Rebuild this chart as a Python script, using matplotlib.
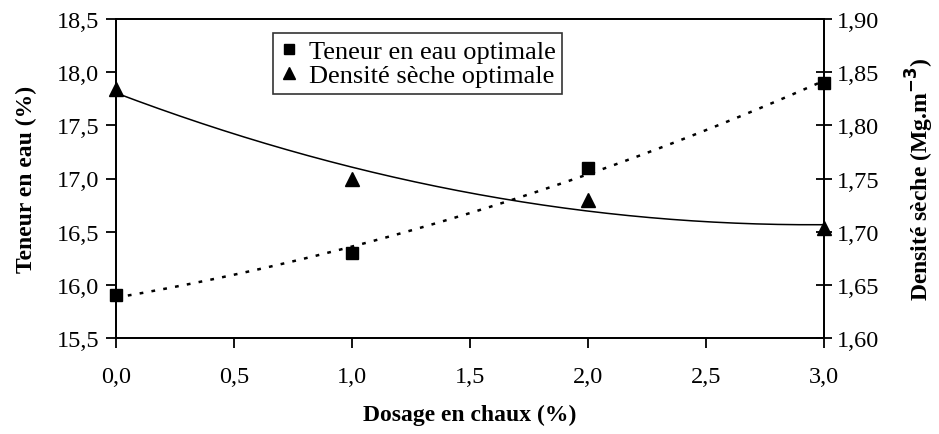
import numpy as np
import matplotlib.pyplot as plt
from matplotlib.ticker import FuncFormatter, MultipleLocator

# Data
dosage = [0, 1, 2, 3]                      # Dosage en chaux (%)
teneur = [15.9, 16.3, 17.1, 17.9]          # Teneur en eau optimale (%)
densite = [1.834, 1.75, 1.73, 1.703]       # Densité sèche optimale (Mg/m3)

plt.rcParams['font.family'] = ['Liberation Serif', 'DejaVu Serif']

fig = plt.figure(figsize=(9.39, 4.35), dpi=100)
ax = fig.add_axes([116/939, 1 - 339/435, (824-116)/939, (339-20)/435])
ax2 = ax.twinx()

# polynomial (order 2) trend lines like the spreadsheet
xs = np.linspace(0, 3, 200)
c1 = np.polyfit(dosage, teneur, 2)
c2 = np.polyfit(dosage, densite, 2)

ax.plot(xs, np.polyval(c1, xs), color='black', lw=1.8, linestyle=(0, (1.5, 3.3)))
h1, = ax.plot(dosage, teneur, 's', color='black', markersize=9, clip_on=False, zorder=5)
ax2.plot(xs, np.polyval(c2, xs), color='black', lw=1.1)
h2, = ax2.plot(dosage, densite, '^', color='black', markersize=10, clip_on=False, zorder=5)

ax.set_xlim(0, 3)
ax.set_ylim(15.5, 18.5)
ax2.set_ylim(1.60, 1.90)
ax.xaxis.set_major_locator(MultipleLocator(0.5))
ax.yaxis.set_major_locator(MultipleLocator(0.5))
ax2.yaxis.set_major_locator(MultipleLocator(0.05))

ax.xaxis.set_major_formatter(FuncFormatter(lambda v, p: f'{v:.1f}'.replace('.', ',')))
ax.yaxis.set_major_formatter(FuncFormatter(lambda v, p: f'{v:.1f}'.replace('.', ',')))
ax2.yaxis.set_major_formatter(FuncFormatter(lambda v, p: f'{v:.2f}'.replace('.', ',')))

ax.tick_params(axis='both', direction='out', length=7, width=1.3, labelsize=17.5, pad=5)
ax.tick_params(axis='x', pad=13)
ax2.tick_params(axis='y', direction='inout', length=12, width=1.3, labelsize=17.5, pad=3)
for a in (ax, ax2):
    for s in a.spines.values():
        s.set_linewidth(1.3)

ax.set_xlabel('Dosage en chaux (%)', fontsize=17, fontweight='bold', labelpad=12)
ax.set_ylabel('Teneur en eau (%)', fontsize=17, fontweight='bold', labelpad=14)
ax2.set_ylabel('Densité sèche (Mg.m$^{\\mathbf{-3}}$)', fontsize=17, fontweight='bold', labelpad=18)

leg = ax.legend([h1, h2], ['Teneur en eau optimale', 'Densité sèche optimale'],
                loc='upper left', bbox_to_anchor=(0.222, 0.956), fontsize=19,
                frameon=True, fancybox=False, edgecolor='black', handlelength=0.7,
                handletextpad=0.4, borderpad=0.25, labelspacing=0.02, markerscale=0.85,
                borderaxespad=0)
leg.get_frame().set_linewidth(1.2)

plt.savefig('out.png', dpi=100)
